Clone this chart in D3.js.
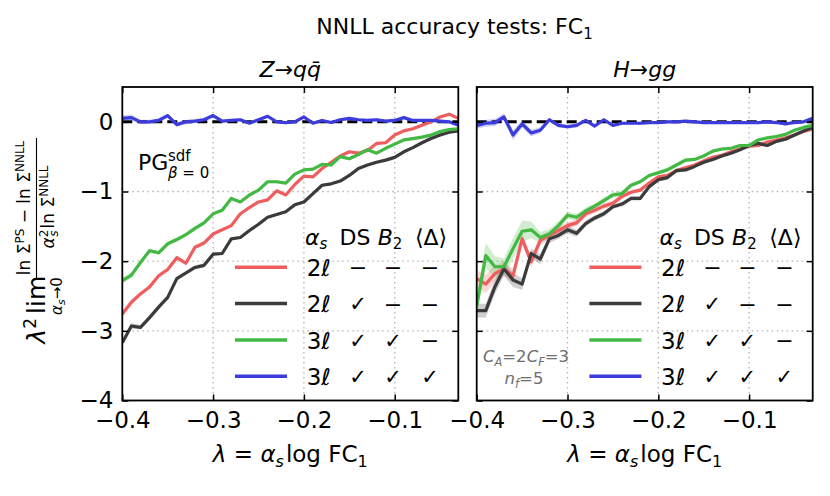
<!DOCTYPE html>
<html>
<head>
<meta charset="utf-8">
<script src="https://cdn.jsdelivr.net/npm/d3@7"></script>
<style>
  body { margin: 0; background: #fff; }
  svg { font-family: "DejaVu Sans", sans-serif; }
</style>
</head>
<body>
<svg id="chart" width="830" height="496"></svg>
<script>
// lambda = alpha_s log FC1
const lambdaVals = [-0.40,-0.39,-0.38,-0.37,-0.36,-0.35,-0.34,-0.33,-0.32,-0.31,-0.30,-0.29,-0.28,-0.27,-0.26,-0.25,-0.24,-0.23,-0.22,-0.21,
  -0.20,-0.19,-0.18,-0.17,-0.16,-0.15,-0.14,-0.13,-0.12,-0.11,-0.10,-0.09,-0.08,-0.07,-0.06,-0.05,-0.04,-0.03];

// Z -> q qbar
const zq2l = [-2.76,-2.59,-2.47,-2.37,-2.21,-2.12,-1.95,-2.03,-1.80,-1.74,-1.61,-1.55,-1.49,-1.32,-1.23,-1.15,-1.12,-0.99,-1.05,-0.90,
  -0.78,-0.79,-0.67,-0.58,-0.49,-0.43,-0.45,-0.41,-0.31,-0.30,-0.19,-0.13,-0.10,-0.05,0.00,0.07,0.11,0.05];
const zq2lDS = [-3.17,-2.93,-2.95,-2.81,-2.66,-2.52,-2.25,-2.17,-2.09,-2.06,-1.90,-1.89,-1.68,-1.66,-1.56,-1.47,-1.37,-1.33,-1.29,-1.19,
  -1.15,-1.03,-0.91,-0.89,-0.85,-0.77,-0.67,-0.62,-0.58,-0.55,-0.51,-0.43,-0.37,-0.30,-0.24,-0.19,-0.15,-0.13];
const zq3l = [-2.28,-2.20,-2.02,-1.85,-1.88,-1.75,-1.69,-1.62,-1.53,-1.45,-1.32,-1.27,-1.10,-1.15,-1.05,-0.98,-0.86,-0.86,-0.88,-0.75,
  -0.69,-0.68,-0.61,-0.62,-0.50,-0.53,-0.47,-0.40,-0.45,-0.38,-0.32,-0.26,-0.24,-0.22,-0.19,-0.14,-0.11,-0.10];
const zq3lDelta = [0.05,0.06,0.00,0.00,0.02,0.09,-0.04,0.00,0.01,0.03,0.09,0.01,0.02,0.03,-0.02,0.03,0.08,0.00,-0.01,0.00,
  0.07,-0.02,0.02,-0.01,0.03,0.05,0.03,0.02,0.03,0.01,0.02,0.06,0.02,0.02,0.02,0.01,0.00,-0.05];
const zqErr = [0.04,0.04,0.03,0.03,0.03,0.03,0.03,0.03,0.03,0.03,0.02,0.02,0.02,0.02,0.02,0.02,0.02,0.02,0.02,0.02,
  0.02,0.02,0.02,0.02,0.02,0.02,0.02,0.02,0.02,0.02,0.02,0.02,0.02,0.02,0.02,0.02,0.02,0.02];

// H -> g g
const hg2l = [-2.25,-2.33,-2.18,-2.11,-2.21,-1.68,-2.01,-1.70,-1.63,-1.56,-1.49,-1.45,-1.32,-1.27,-1.21,-1.17,-1.07,-1.01,-0.98,-0.88,
  -0.79,-0.77,-0.70,-0.66,-0.62,-0.56,-0.51,-0.48,-0.43,-0.39,-0.35,-0.34,-0.29,-0.26,-0.23,-0.19,-0.14,-0.10];
const hg2lDS = [-2.71,-2.71,-2.37,-2.11,-2.27,-2.33,-1.89,-1.97,-1.68,-1.63,-1.55,-1.60,-1.46,-1.38,-1.32,-1.22,-1.18,-1.10,-1.10,-0.93,
  -0.83,-0.80,-0.70,-0.69,-0.64,-0.58,-0.54,-0.49,-0.45,-0.40,-0.34,-0.31,-0.34,-0.28,-0.25,-0.19,-0.13,-0.08];
const hg3l = [-2.64,-1.92,-2.08,-2.08,-1.82,-1.57,-1.55,-1.66,-1.61,-1.49,-1.34,-1.37,-1.28,-1.21,-1.13,-1.05,-1.03,-0.91,-0.86,-0.77,
  -0.73,-0.69,-0.62,-0.55,-0.54,-0.49,-0.42,-0.39,-0.38,-0.34,-0.34,-0.26,-0.23,-0.21,-0.18,-0.12,-0.08,-0.05];
const hg3lDelta = [-0.05,-0.02,-0.01,0.07,-0.19,-0.03,-0.16,-0.12,0.03,-0.05,-0.07,-0.05,0.02,-0.06,0.03,-0.05,-0.02,-0.02,-0.02,-0.01,
  -0.01,0.00,0.00,0.01,0.00,-0.01,-0.01,-0.01,-0.01,-0.01,-0.01,-0.01,0.00,-0.01,-0.03,-0.01,0.00,0.05];
const hg2lErr = [0.12,0.13,0.12,0.10,0.10,0.08,0.08,0.07,0.06,0.06,0.05,0.05,0.05,0.04,0.04,0.04,0.04,0.03,0.03,0.03,
  0.03,0.03,0.03,0.03,0.02,0.02,0.02,0.02,0.02,0.02,0.02,0.02,0.02,0.02,0.02,0.02,0.02,0.02];
const hg2lDSErr = [0.10,0.10,0.10,0.10,0.10,0.08,0.07,0.07,0.06,0.05,0.05,0.05,0.04,0.04,0.04,0.03,0.03,0.03,0.03,0.03,
  0.03,0.03,0.03,0.02,0.02,0.02,0.02,0.02,0.02,0.02,0.02,0.02,0.02,0.02,0.02,0.02,0.02,0.02];
const hg3lErr = [0.14,0.18,0.15,0.12,0.15,0.15,0.12,0.08,0.07,0.06,0.05,0.05,0.05,0.04,0.04,0.04,0.04,0.03,0.03,0.03,
  0.03,0.03,0.03,0.03,0.02,0.02,0.02,0.02,0.02,0.02,0.02,0.02,0.02,0.02,0.02,0.02,0.02,0.02];
const hg3lDeltaErr = [0.05,0.05,0.05,0.05,0.07,0.05,0.05,0.04,0.03,0.03,0.03,0.03,0.02,0.02,0.02,0.02,0.02,0.02,0.02,0.02,
  0.02,0.02,0.02,0.02,0.02,0.02,0.02,0.02,0.02,0.02,0.02,0.02,0.02,0.02,0.02,0.02,0.02,0.02];

const xTicks = [-0.4, -0.3, -0.2, -0.1];
const yTicks = [0, -1, -2, -3, -4];
const xGrid = [-0.3, -0.2, -0.1];
const yGrid = [-1, -2, -3];

const seriesColors = ['#ef5e5e', '#3b3b3b', '#43b843', '#3c3cdc'];
const legendOrders = ['2', '2', '3', '3'];
const legendDS = [false, true, true, true];
const legendB2 = [false, false, true, true];
const legendDelta = [false, false, false, true];

const panels = [
  { x0: 122.3, sub: [{t: 'Z', it: 1}, {t: '\u2192'}, {t: 'q', it: 1}, {t: 'q\u0304', it: 1}],
    series: [[zq2l, zqErr], [zq2lDS, zqErr], [zq3l, zqErr], [zq3lDelta, zqErr]], ylabels: true },
  { x0: 476.7, sub: [{t: 'H', it: 1}, {t: '\u2192'}, {t: 'gg', it: 1}],
    series: [[hg2l, hg2lErr], [hg2lDS, hg2lDSErr], [hg3l, hg3lErr], [hg3lDelta, hg3lDeltaErr]], ylabels: false }
];
const panelW = 336, plotTop = 87, plotBottom = 400.5;

const svg = d3.select('#chart');

// text with sub/superscripts via tspans
function mathText(parent, x, y, size, parts, anchor) {
  const t = parent.append('text').attr('x', x).attr('y', y)
    .attr('font-size', size).attr('text-anchor', anchor || 'start');
  let shift = 0;
  parts.forEach(p => {
    const s = p.shift || 0;
    const ts = t.append('tspan').text(p.t).attr('dy', shift - s);
    if (p.size) ts.attr('font-size', p.size);
    if (p.it) ts.attr('font-style', 'italic');
    if (p.dx) ts.attr('dx', p.dx);
    shift = s;
  });
  return t;
}

const yScale = d3.scaleLinear().domain([-4, 0.5]).range([plotBottom, plotTop]);

panels.forEach((p, pi) => {
  const x = d3.scaleLinear().domain([-0.4, -0.03]).range([p.x0, p.x0 + panelW]);
  const y = yScale;
  const g = svg.append('g');

  g.append('clipPath').attr('id', 'clip' + pi).append('rect')
    .attr('x', p.x0).attr('y', plotTop).attr('width', panelW).attr('height', plotBottom - plotTop);

  // grid
  const grid = g.append('g').attr('stroke', '#b3b3b3').attr('stroke-width', 1.3).attr('stroke-dasharray', '1.5,3.5');
  grid.selectAll('.gx').data(xGrid).enter().append('line')
    .attr('x1', d => x(d)).attr('x2', d => x(d)).attr('y1', plotTop).attr('y2', plotBottom);
  grid.selectAll('.gy').data(yGrid).enter().append('line')
    .attr('x1', p.x0).attr('x2', p.x0 + panelW).attr('y1', d => y(d)).attr('y2', d => y(d));

  const plot = g.append('g').attr('clip-path', `url(#clip${pi})`);

  // reference line at 0
  plot.append('line').attr('x1', p.x0).attr('x2', p.x0 + panelW).attr('y1', y(0)).attr('y2', y(0))
    .attr('stroke', '#000').attr('stroke-width', 3).attr('stroke-dasharray', '10,5');

  const area = d3.area().x((d, i) => x(lambdaVals[i]));
  const line = d3.line().x((d, i) => x(lambdaVals[i])).y(d => y(d));

  p.series.forEach(([vals, err], si) => {
    plot.append('path').datum(vals)
      .attr('d', area.y0((d, i) => y(d - err[i])).y1((d, i) => y(d + err[i])))
      .attr('fill', seriesColors[si]).attr('opacity', 0.25);
  });
  p.series.forEach(([vals], si) => {
    plot.append('path').datum(vals).attr('d', line)
      .attr('fill', 'none').attr('stroke', seriesColors[si]).attr('stroke-width', 3.2)
      .attr('stroke-linejoin', 'round');
  });

  // axes, ticks inward on all sides
  const fontAxis = a => a.selectAll('text').attr('font-size', 23).attr('font-family', 'DejaVu Sans').attr('fill', '#000');
  const tidy = a => { a.select('.domain').remove(); a.selectAll('line').attr('stroke-width', 1.5); };
  const ax = g.append('g').attr('transform', `translate(0,${plotBottom})`)
    .call(d3.axisBottom(x).tickValues(xTicks).tickSize(-6).tickSizeOuter(0).tickPadding(11.5).tickFormat(d3.format('.1f')));
  tidy(ax); fontAxis(ax);
  const axT = g.append('g').attr('transform', `translate(0,${plotTop})`)
    .call(d3.axisTop(x).tickValues(xTicks).tickSize(-6).tickSizeOuter(0).tickFormat(''));
  tidy(axT);
  const ay = g.append('g').attr('transform', `translate(${p.x0},0)`)
    .call(d3.axisLeft(y).tickValues(yTicks).tickSize(-6).tickSizeOuter(0).tickPadding(9)
      .tickFormat(p.ylabels ? d3.format('d') : ''));
  tidy(ay); fontAxis(ay);
  const ayR = g.append('g').attr('transform', `translate(${p.x0 + panelW},0)`)
    .call(d3.axisRight(y).tickValues(yTicks).tickSize(-6).tickSizeOuter(0).tickFormat(''));
  tidy(ayR);

  g.append('rect').attr('x', p.x0).attr('y', plotTop).attr('width', panelW).attr('height', plotBottom - plotTop)
    .attr('fill', 'none').attr('stroke', '#000').attr('stroke-width', 1.8);

  // subplot title and x label
  const cx = p.x0 + panelW / 2;
  mathText(g, cx, 77, 22, p.sub, 'middle');
  mathText(g, cx, 462, 23, [{t: '\u03bb', it: 1}, {t: ' = '}, {t: '\u03b1', it: 1}, {t: 's', it: 1, size: 16, shift: -5},
    {t: 'log', shift: 0, dx: 2}, {t: ' FC'}, {t: '1', size: 16, shift: -5}], 'middle');

  // legend
  const lg = g.append('g').attr('transform', `translate(${p.x0},0)`).attr('font-size', 22);
  const rowY = [267.3, 303.6, 340, 376.3];
  mathText(lg, 182.7, 245, 22, [{t: '\u03b1', it: 1}, {t: 's', it: 1, size: 15, shift: -4}]);
  lg.append('text').attr('x', 232.7).attr('y', 245).attr('text-anchor', 'middle').text('DS');
  mathText(lg, 267.7, 245, 22, [{t: 'B', it: 1}, {t: '2', size: 15, shift: -4}], 'middle');
  lg.append('text').attr('x', 308.7).attr('y', 245).attr('text-anchor', 'middle').text('\u27e8\u0394\u27e9');
  rowY.forEach((ry, i) => {
    lg.append('line').attr('x1', 112.7).attr('x2', 164.7).attr('y1', ry).attr('y2', ry)
      .attr('stroke', seriesColors[i]).attr('stroke-width', 3.5);
    lg.append('text').attr('x', 184.4).attr('y', ry + 8.5).attr('font-size', 23).text(legendOrders[i] + '\u2113');
    [legendDS[i], legendB2[i], legendDelta[i]].forEach((on, k) => {
      lg.append('text').attr('x', [235.7, 270.7, 307.7][k]).attr('y', ry + (on ? 7.5 : 8))
        .attr('text-anchor', 'middle').attr('font-size', on ? 21 : 22).text(on ? '\u2713' : '\u2212');
    });
  });
});

// figure title
mathText(svg, 454.5, 34, 22, [{t: 'NNLL accuracy tests: FC'}, {t: '1', size: 15, shift: -5}], 'middle');

// annotations
svg.append('text').attr('x', 138).attr('y', 170).attr('font-size', 22).text('PG');
svg.append('text').attr('x', 168).attr('y', 161).attr('font-size', 15).text('sdf');
mathText(svg, 168, 178, 15, [{t: '\u03b2', it: 1}, {t: ' = 0'}]);
const note = svg.append('g').attr('fill', '#6e6e6e');
mathText(note, 526, 362, 16.5, [{t: 'C', it: 1}, {t: 'A', it: 1, size: 11.5, shift: -4}, {t: '=2'},
  {t: 'C', it: 1}, {t: 'F', it: 1, size: 11.5, shift: -4}, {t: '=3'}], 'middle');
mathText(note, 524, 384, 16.5, [{t: 'n', it: 1}, {t: 'f', it: 1, size: 11.5, shift: -4}, {t: '=5'}], 'middle');

// y label (rotated)
const yl = svg.append('g').attr('transform', 'rotate(-90)');
mathText(yl, -318, 45, 25, [{t: '\u03bb', it: 1}, {t: '2', size: 17, shift: 9}], 'end');
yl.append('text').attr('x', -314).attr('y', 45).attr('font-size', 25).text('lim');
mathText(yl, -296, 62, 15, [{t: '\u03b1', it: 1}, {t: 's', it: 1, size: 11, shift: -3}, {t: '\u2192', shift: 0}, {t: '0'}], 'middle');
yl.append('line').attr('x1', -279).attr('x2', -138).attr('y1', 36.5).attr('y2', 36.5)
  .attr('stroke', '#000').attr('stroke-width', 1.1);
mathText(yl, -208, 30, 17, [{t: 'ln \u03a3'}, {t: 'PS', size: 12, shift: 6}, {t: ' \u2212 ln \u03a3', shift: 0},
  {t: 'NNLL', size: 12, shift: 6}], 'middle');
mathText(yl, -207, 54, 17, [{t: '\u03b1', it: 1}, {t: '2', size: 12, shift: 6}, {t: 's', it: 1, size: 12, shift: -4, dx: -7},
  {t: 'ln \u03a3', shift: 0, dx: 2}, {t: 'NNLL', size: 12, shift: 6}], 'middle');
</script>
</body>
</html>
